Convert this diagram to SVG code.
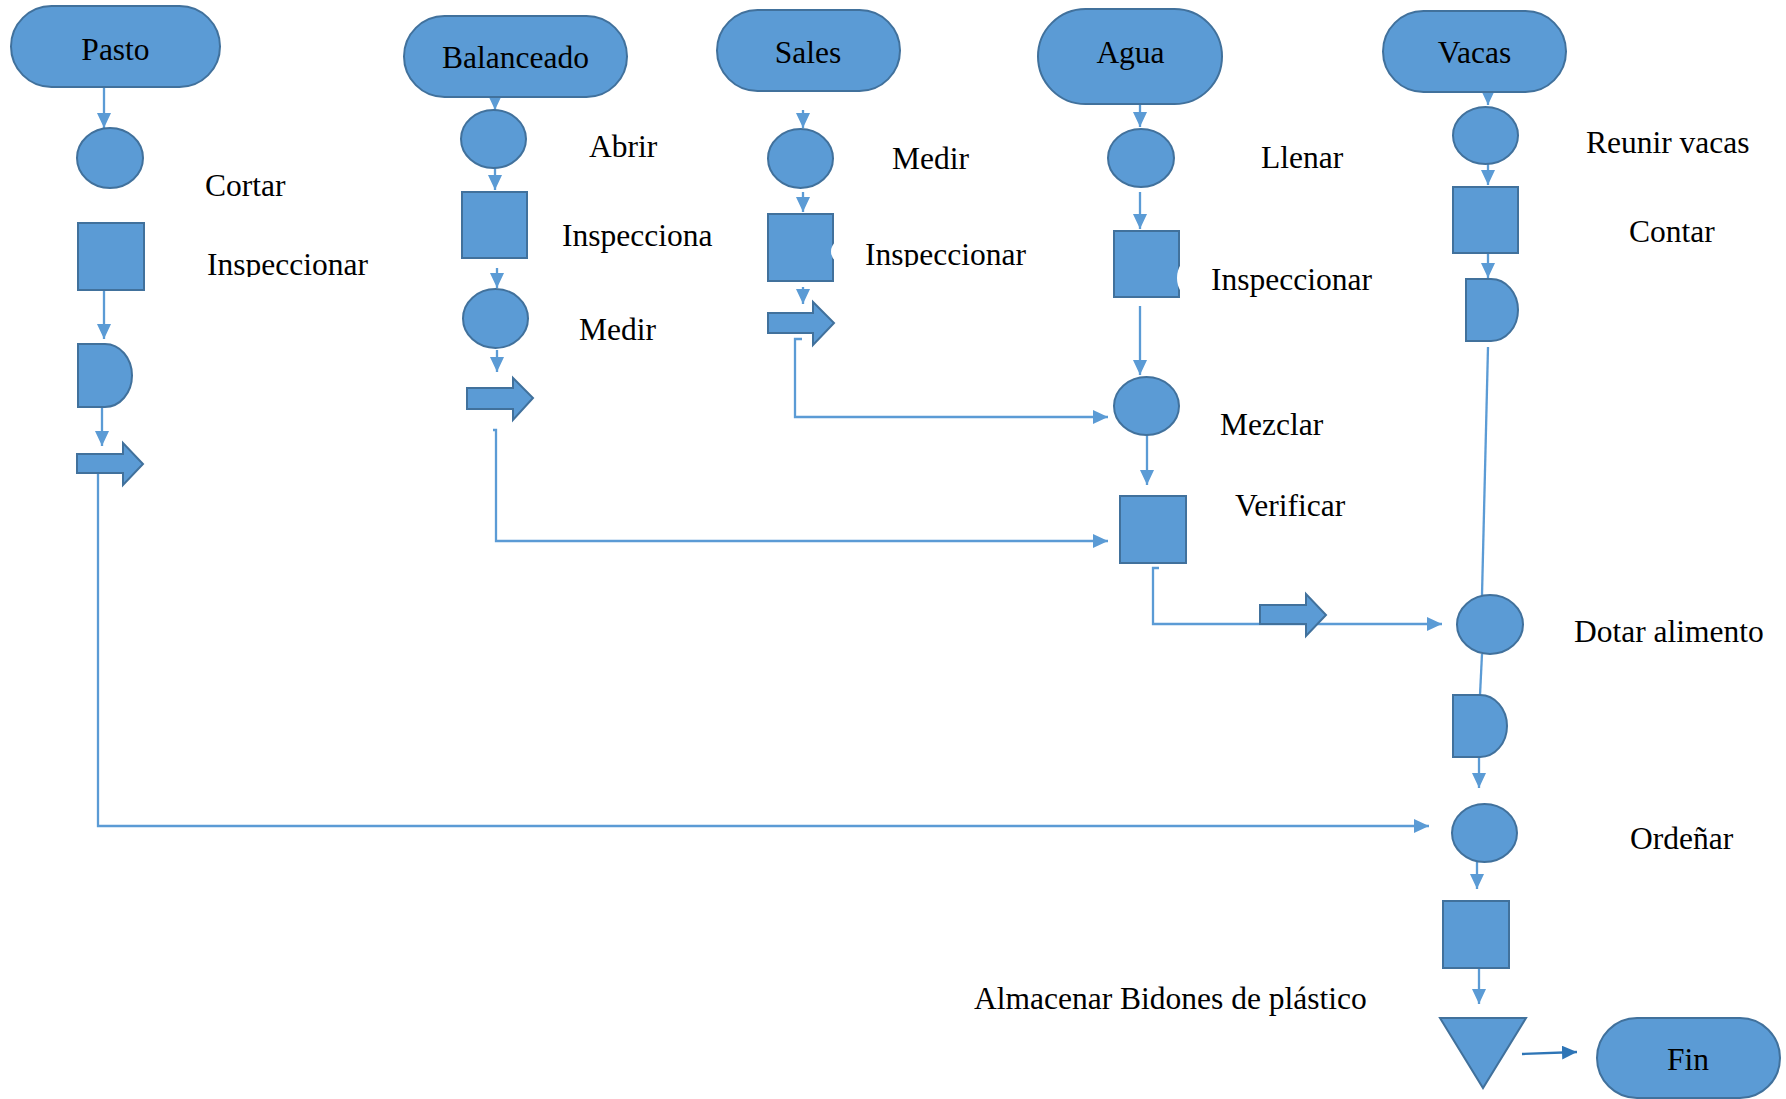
<svg xmlns="http://www.w3.org/2000/svg" width="1786" height="1099" viewBox="0 0 1786 1099">
<style>
.s{fill:#5B9BD5;stroke:#41719C;stroke-width:2}
.t{font-family:"Liberation Serif","Times New Roman",serif;font-size:31.5px;fill:#000}
.c{fill:none;stroke:#5B9BD5;stroke-width:2.3}
.w{fill:#fff;stroke:none}
</style>
<defs>
<marker id="ah" markerUnits="userSpaceOnUse" markerWidth="16" markerHeight="14" refX="15" refY="7" orient="auto">
<path d="M0,0 L15,7 L0,14 Z" fill="#5B9BD5"/>
</marker>
<marker id="ah2" markerUnits="userSpaceOnUse" markerWidth="16" markerHeight="14" refX="15" refY="7" orient="auto">
<path d="M0,0 L15,7 L0,14 Z" fill="#2E75B6"/>
</marker>
<clipPath id="clipA"><rect x="200" y="230" width="200" height="47"/></clipPath>
<clipPath id="clipB"><rect x="860" y="220" width="200" height="47"/></clipPath>
</defs>

<g id="connectors">
<path class="c" d="M104,87 V128" marker-end="url(#ah)"/>
<path class="c" d="M104,290 V339" marker-end="url(#ah)"/>
<path class="c" d="M102,407 V446" marker-end="url(#ah)"/>
<path class="c" d="M98,473 V826 H1429" marker-end="url(#ah)"/>
<path class="c" d="M495,97 V110" marker-end="url(#ah)"/>
<path class="c" d="M495,168 V190" marker-end="url(#ah)"/>
<path class="c" d="M497,268 V288" marker-end="url(#ah)"/>
<path class="c" d="M497,350 V372" marker-end="url(#ah)"/>
<path class="c" d="M493,430 H496 V541 H1108" marker-end="url(#ah)"/>
<path class="c" d="M803,110 V128" marker-end="url(#ah)"/>
<path class="c" d="M803,192 V212" marker-end="url(#ah)"/>
<path class="c" d="M803,287 V304" marker-end="url(#ah)"/>
<path class="c" d="M802,339 H795 V417 H1108" marker-end="url(#ah)"/>
<path class="c" d="M1140,104 V127" marker-end="url(#ah)"/>
<path class="c" d="M1140,192 V229" marker-end="url(#ah)"/>
<path class="c" d="M1140,306 V375" marker-end="url(#ah)"/>
<path class="c" d="M1147,435 V485" marker-end="url(#ah)"/>
<path class="c" d="M1159,568 H1153 V624 H1442" marker-end="url(#ah)"/>
<path class="c" d="M1488,92 V105" marker-end="url(#ah)"/>
<path class="c" d="M1488,164 V185" marker-end="url(#ah)"/>
<path class="c" d="M1488,253 V278" marker-end="url(#ah)"/>
<path class="c" d="M1488,347 L1482,595"/>
<path class="c" d="M1482,654 L1480,695"/>
<path class="c" d="M1479,757 V788" marker-end="url(#ah)"/>
<path class="c" d="M1477,862 V889" marker-end="url(#ah)"/>
<path class="c" d="M1479,968 V1004" marker-end="url(#ah)"/>
<path class="c" d="M1522,1054 L1577,1052" style="stroke:#2E75B6" marker-end="url(#ah2)"/>
</g>

<!-- Pasto column -->
<g id="pasto"><rect class="s" x="11" y="6" width="209" height="81" rx="40.5"/><text class="t" x="115.5" y="60" text-anchor="middle">Pasto</text></g>
<g id="cortar"><ellipse class="s" cx="110" cy="158" rx="33" ry="30"/><text class="t" x="205" y="196">Cortar</text></g>
<g id="inspeccionar1"><rect class="s" x="78" y="223" width="66" height="67"/><text class="t" x="207" y="275" clip-path="url(#clipA)">Inspeccionar</text></g>
<g id="demora1"><path class="s" d="M78,344 H105 A27,31.5 0 0 1 105,407 H78 Z"/></g>
<g id="transporte1"><path class="s" d="M77,454 H123 V443 L143,464 L123,485 V473 H77 Z"/></g>

<!-- Balanceado column -->
<g id="balanceado"><rect class="s" x="404" y="16" width="223" height="81" rx="40.5"/><text class="t" x="515.5" y="68" text-anchor="middle">Balanceado</text></g>
<g id="abrir"><ellipse class="s" cx="493.5" cy="139" rx="32.5" ry="29"/><text class="t" x="589" y="157">Abrir</text></g>
<g id="inspecciona"><rect class="s" x="462" y="192" width="65" height="66"/><text class="t" x="562" y="246">Inspecciona</text></g>
<g id="medir1"><ellipse class="s" cx="495.5" cy="318.5" rx="32.5" ry="29.5"/><text class="t" x="579" y="340">Medir</text></g>
<g id="transporte2"><path class="s" d="M467,388 H513 V378 L533,398 L513,420 V409 H467 Z"/></g>

<!-- Sales column -->
<g id="sales"><rect class="s" x="717" y="10" width="183" height="81" rx="40.5"/><text class="t" x="808" y="63" text-anchor="middle">Sales</text></g>
<g id="medir2"><ellipse class="s" cx="800.5" cy="158.5" rx="32.5" ry="29.5"/><text class="t" x="892" y="169">Medir</text></g>
<g id="inspeccionar2"><rect class="s" x="768" y="214" width="65" height="67"/><ellipse class="w" cx="845" cy="251.5" rx="14" ry="13"/><text class="t" x="865" y="265" clip-path="url(#clipB)">Inspeccionar</text></g>
<g id="transporte3"><path class="s" d="M768,313 H813 V302 L834,323 L813,345 V333 H768 Z"/></g>

<!-- Agua column -->
<g id="agua"><rect class="s" x="1038" y="9" width="184" height="95" rx="47.5"/><text class="t" x="1130.5" y="63" text-anchor="middle">Agua</text></g>
<g id="llenar"><ellipse class="s" cx="1141" cy="158" rx="33" ry="29"/><text class="t" x="1261" y="168">Llenar</text></g>
<g id="inspeccionar3"><rect class="s" x="1114" y="231" width="65" height="66"/><ellipse class="w" cx="1192" cy="278" rx="15" ry="20"/><text class="t" x="1211" y="290">Inspeccionar</text></g>
<g id="mezclar"><ellipse class="s" cx="1146.5" cy="406" rx="32.5" ry="29"/><text class="t" x="1220" y="435">Mezclar</text></g>
<g id="verificar"><rect class="s" x="1120" y="496" width="66" height="67"/><text class="t" x="1235" y="516">Verificar</text></g>
<g id="transporte4"><path class="s" d="M1260,605 H1306 V594 L1326,615 L1306,636 V624 H1260 Z"/></g>

<!-- Vacas column -->
<g id="vacas"><rect class="s" x="1383" y="11" width="183" height="81" rx="40.5"/><text class="t" x="1474.5" y="63" text-anchor="middle">Vacas</text></g>
<g id="reunir"><ellipse class="s" cx="1485.5" cy="135.5" rx="32.5" ry="28.5"/><text class="t" x="1586" y="153">Reunir vacas</text></g>
<g id="contar"><rect class="s" x="1453" y="187" width="65" height="66"/><text class="t" x="1629" y="242">Contar</text></g>
<g id="demora2"><path class="s" d="M1466,279 H1491 A27,31 0 0 1 1491,341 H1466 Z"/></g>
<g id="dotar"><ellipse class="s" cx="1490" cy="624.5" rx="33" ry="29.5"/><text class="t" x="1574" y="642">Dotar alimento</text></g>
<g id="demora3"><path class="s" d="M1453,695 H1480 A27,31 0 0 1 1480,757 H1453 Z"/></g>
<g id="ordenar"><ellipse class="s" cx="1484.5" cy="833" rx="32.5" ry="29"/><text class="t" x="1630" y="849">Ordeñar</text></g>
<g id="inspeccion5"><rect class="s" x="1443" y="901" width="66" height="67"/></g>
<g id="almacenar"><path class="s" d="M1440,1018 H1526 L1483,1088 Z"/><text class="t" x="974" y="1009">Almacenar Bidones de plástico</text></g>
<g id="fin"><rect class="s" x="1597" y="1018" width="183" height="80" rx="40"/><text class="t" x="1688" y="1070" text-anchor="middle">Fin</text></g>
</svg>
